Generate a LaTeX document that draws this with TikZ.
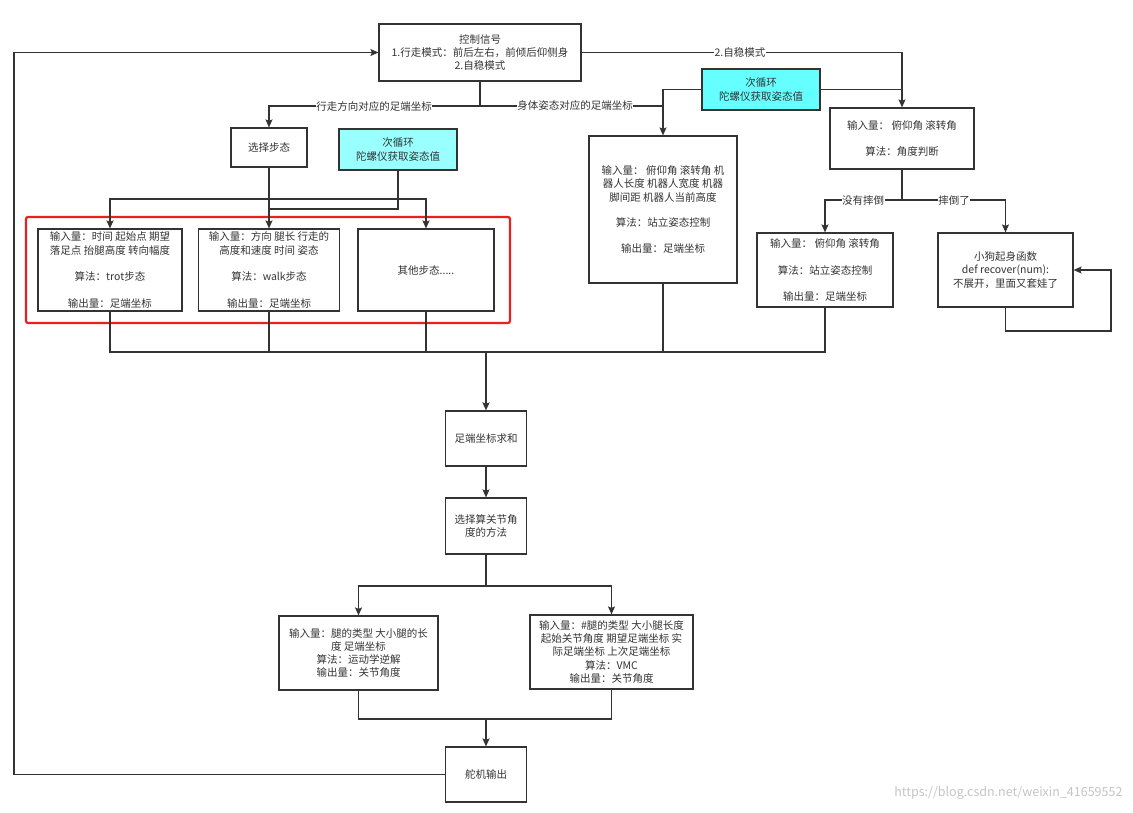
\documentclass[tikz,border=0pt]{standalone}
\usepackage{fontspec}
\setmainfont{Noto Sans CJK SC}
\usepackage{xcolor}
\usetikzlibrary{arrows.meta,positioning,calc}
\definecolor{linegray}{HTML}{333333}
\definecolor{cyanA}{HTML}{99FFFF}
\definecolor{cyanB}{HTML}{66FFFF}
\definecolor{frameRed}{HTML}{E8211E}
\definecolor{markGray}{HTML}{C4C4C4}

\begin{document}
\begin{tikzpicture}[x=1pt,y=-1pt,
    box/.style={draw=linegray, line width=1.2pt, text=linegray, align=center, inner sep=1pt, font=\fontsize{10.5}{13.3}\selectfont},
    lbl/.style={fill=white, text=linegray, inner sep=0.5pt, font=\fontsize{10.5}{13}\selectfont},
    wire/.style={draw=linegray, line width=1.2pt},
    arr/.style={wire, -{Stealth[length=8pt,width=7pt,inset=1.5pt]}}]
    \useasboundingbox (0,0) rectangle (1133,812);

    \node[box, minimum width=202pt, minimum height=57pt] (ctrl) at (480,52.5) {控制信号\\1.行走模式：前后左右，前倾后仰侧身\\2.自稳模式}; % Control signal
    \node[box, minimum width=76pt, minimum height=39pt] (gait) at (269,147.5) {选择步态};
    \node[box, fill=cyanA, minimum width=118pt, minimum height=41pt] (gyroA) at (398,149.5) {次循环\\陀螺仪获取姿态值};

    \node[box, minimum width=144pt, minimum height=82pt] (trot) at (110,270) {输入量：时间 起始点 期望\\落足点 抬腿高度 转向幅度\\[13.3pt]算法：trot步态\\[13.3pt]输出量：足端坐标}; % Gaits
    \node[box, minimum width=141pt, minimum height=82pt] (walk) at (269,270) {输入量：方向 腿长 行走的\\高度和速度 时间 姿态\\[13.3pt]算法：walk步态\\[13.3pt]输出量：足端坐标};
    \node[box, minimum width=136pt, minimum height=82pt] (other) at (426,270) {其他步态.....};
    \draw[frameRed, line width=2.2pt, rounded corners=2pt] (26,217) rectangle (510,323); % Red frame

    \node[box, minimum width=148pt, minimum height=147pt] (stand) at (663,209.5) {输入量：  俯仰角 滚转角 机\\器人长度 机器人宽度 机器\\脚间距 机器人当前高度\\[12.5pt]算法：站立姿态控制\\[12.5pt]输出量：足端坐标}; % Body posture
    \node[box, fill=cyanB, minimum width=118pt, minimum height=41pt] (gyroB) at (761,89.5) {次循环\\陀螺仪获取姿态值};
    \node[box, minimum width=144pt, minimum height=61pt] (judge) at (902,138.5) {输入量：  俯仰角 滚转角\\[13.3pt]算法：角度判断}; % Self-balance
    \node[box, minimum width=136pt, minimum height=74pt] (standB) at (825,270) {输入量：  俯仰角 滚转角\\[13.3pt]算法：站立姿态控制\\[13.3pt]输出量：足端坐标};
    \node[box, minimum width=135pt, minimum height=74pt] (recover) at (1005.5,270) {小狗起身函数\\def recover(num):\\不展开，里面又套娃了};

    \node[box, minimum width=81pt, minimum height=55pt] (sum) at (486,438.5) {足端坐标求和}; % Summation
    \node[box, minimum width=81pt, minimum height=56pt] (method) at (486,526) {选择算关节角\\度的方法};
    \node[box, minimum width=159pt, minimum height=74pt] (ik) at (358.5,653) {输入量：腿的类型 大小腿的长\\度 足端坐标\\算法：运动学逆解\\输出量：关节角度}; % Joint angles
    \node[box, minimum width=163pt, minimum height=74pt] (vmc) at (611.5,652) {输入量：\#腿的类型 大小腿长度\\起始关节角度 期望足端坐标 实\\际足端坐标 上次足端坐标\\算法：VMC\\输出量：关节角度};
    \node[box, minimum width=81pt, minimum height=55pt] (servo) at (486,774.5) {舵机输出}; % Servo output

    \coordinate (splitTop) at (480,106);
    \coordinate (standIn) at (663,106);
    \coordinate (judgeIn) at (902,89.5);
    \coordinate (gaitSplit) at (269,199);
    \coordinate (gyroJoin) at (269,209);
    \coordinate (merge) at (486,352);
    \coordinate (methodSplit) at (486,586);
    \coordinate (servoJoin) at (486,719);
    \coordinate (judgeSplit) at (902,200);
    \coordinate (loopA) at (1005.5,331);
    \coordinate (loopB) at (1111,331);
    \coordinate (fbLow) at (14,774.5);
    \coordinate (fbHigh) at (14,52.5);

    \draw[arr] (ctrl.south) -- (splitTop) -| (gait.north); % Walking branch
    \draw[arr] (splitTop) -| (stand.north); % Posture branch
    \draw[wire] (gyroB.west) -| (standIn);
    \draw[arr] (ctrl.east) -| (judge.north); % Self-balance branch
    \draw[wire] (gyroB.east) -| (judgeIn);

    \draw[wire] (gait.south) -- (gaitSplit);
    \draw[arr] (gaitSplit) -| (trot.north);
    \draw[arr] (gaitSplit) -- (walk.north);
    \draw[arr] (gaitSplit) -| (other.north);
    \draw[wire] (gyroA.south) |- (gyroJoin);

    \draw[wire] (trot.south) |- (merge); % Merge
    \draw[wire] (walk.south) |- (merge);
    \draw[wire] (other.south) |- (merge);
    \draw[wire] (stand.south) |- (merge);
    \draw[wire] (standB.south) |- (merge);
    \draw[arr, line width=2pt] (merge) -- (sum.north);

    \draw[arr] (sum) -- (method);
    \draw[wire] (method) -- (methodSplit);
    \draw[arr] (methodSplit) -| (ik.north);
    \draw[arr] (methodSplit) -| (vmc.north);
    \draw[wire] (ik.south) |- (servoJoin);
    \draw[wire] (vmc.south) |- (servoJoin);
    \draw[arr] (servoJoin) -- (servo.north);
    \draw[arr] (servo.west) -- (fbLow) -- (fbHigh) -- (ctrl.west); % Feedback

    \draw[wire] (judge.south) -- (judgeSplit);
    \draw[arr] (judgeSplit) -| (standB.north);
    \draw[arr] (judgeSplit) -| (recover.north);
    \draw[arr] (recover.south) -- (loopA) -- (loopB) |- (recover.east); % Self loop

    \node[lbl] (lblWalk) at (374,106) {行走方向对应的足端坐标};
    \node[lbl] (lblBody) at (575,106) {身体姿态对应的足端坐标};
    \node[lbl] (lblSelf) at (740,52.5) {2.自稳模式};
    \node[lbl] (lblStand) at (863,200) {没有摔倒};
    \node[lbl] (lblFall) at (954,200) {摔倒了};

    \node[text=markGray, font=\fontsize{12.5}{14}\selectfont, anchor=east] (mark) at (1126,793) {https://blog.csdn.net/weixin\_41659552};
\end{tikzpicture}
\end{document}
